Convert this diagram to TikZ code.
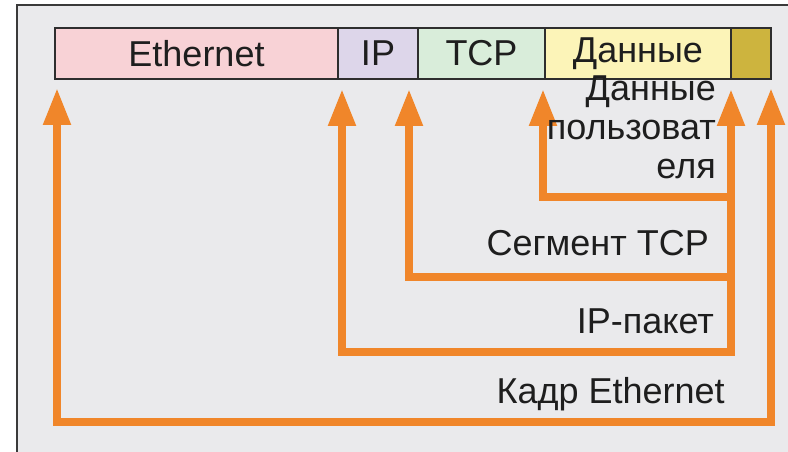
\documentclass[tikz,border=0pt]{standalone}
\usepackage{fontspec}
\setmainfont{Liberation Sans}
\usetikzlibrary{arrows.meta}
\definecolor{bg}{HTML}{EAEAEC}
\definecolor{frameline}{HTML}{3A3A3A}
\definecolor{barline}{HTML}{2E2E2E}
\definecolor{ethc}{HTML}{F8D2D6}
\definecolor{ipc}{HTML}{DDD6EA}
\definecolor{tcpc}{HTML}{D9EDDA}
\definecolor{datac}{HTML}{FCF4B8}
\definecolor{trlc}{HTML}{CDB43E}
\definecolor{orng}{HTML}{F0862A}
\definecolor{txt}{HTML}{1E1E1E}
\tikzset{
  cell/.style={draw=barline, line width=2.5pt, minimum height=51pt, inner sep=0pt, outer sep=0pt, anchor=west,
    text=txt, font=\fontsize{36}{39}\selectfont},
  arr/.style={draw=orng, line width=8pt, line join=miter},
  lbl/.style={inner sep=0pt, text=txt, font=\fontsize{36}{39}\selectfont, anchor=base east, align=right}
}
\begin{document}
\begin{tikzpicture}[x=1pt,y=-1pt]
\useasboundingbox (0,0) rectangle (788,452);
\fill[white] (0,0) rectangle (788,452);
\fill[bg] (17,5) rectangle (788,452);
\draw[frameline, line width=2.5pt] (17,452) -- (17,5) -- (788,5);
% bar
\node[cell, fill=ethc, minimum width=283pt] (eth) at (55,53.5) {Ethernet};
\node[cell, fill=ipc, minimum width=80pt] (ip) at (eth.east) {IP};
\node[cell, fill=tcpc, minimum width=127pt] (tcp) at (ip.east) {TCP};
\node[cell, fill=datac, minimum width=186pt] (data) at (tcp.east) {Данные};
\node[cell, fill=trlc, minimum width=40pt] (trl) at (data.east) {};
% arrow tips
\coordinate (tE) at (57,88);
\coordinate (tIP) at (342,89);
\coordinate (tT) at (409,89);
\coordinate (tD) at (543,89);
\coordinate (tR) at (731,89);
\coordinate (tF) at (771,88);
% corners
\coordinate (cE) at (57,422);
\coordinate (cF) at (771,422);
\coordinate (cIP) at (342,352);
\coordinate (cIPr) at (731,352);
\coordinate (cT) at (409,277);
\coordinate (cTr) at (735,277);
\coordinate (cD) at (543,197);
\coordinate (cDr) at (735,197);
% connectors
\draw[arr, {Triangle[length=37pt,width=26pt]}-{Triangle[length=37pt,width=26pt]}] (tE) -- (cE) -- (cF) -- (tF);
\draw[arr, {Triangle[length=37pt,width=26pt]}-{Triangle[length=37pt,width=26pt]}] (tIP) -- (cIP) -- (cIPr) -- (tR);
\draw[arr, {Triangle[length=37pt,width=26pt]}-] (tT) -- (cT) -- (cTr);
\draw[arr, {Triangle[length=37pt,width=26pt]}-] (tD) -- (cD) -- (cDr);
% labels
\node[lbl] (lD) at (716,178) {Данные\\пользоват\\еля};
\node[lbl] (lT) at (709,255) {Сегмент TCP};
\node[lbl] (lI) at (714,333) {IP-пакет};
\node[lbl] (lK) at (725,403) {Кадр Ethernet};
\end{tikzpicture}
\end{document}
